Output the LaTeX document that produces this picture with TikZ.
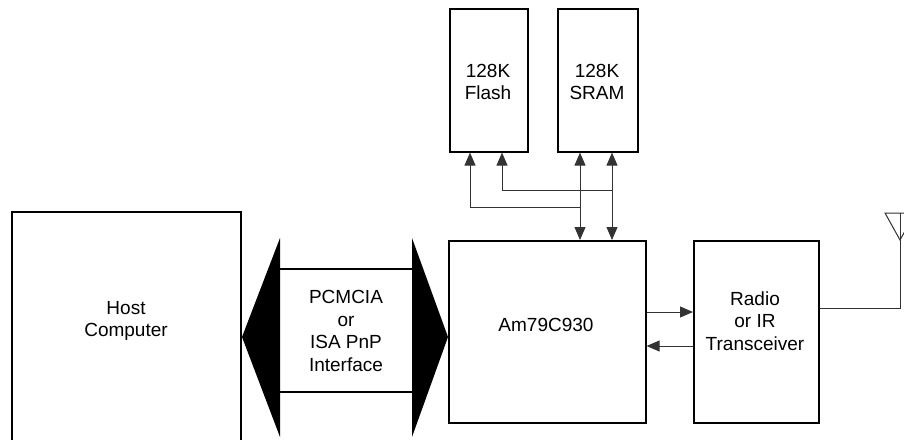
\documentclass[tikz,border=0pt]{standalone}
\usepackage{fontspec}
\setmainfont{Liberation Sans}
\usetikzlibrary{arrows.meta}
\begin{document}
\begin{tikzpicture}[x=1pt,y=-1pt,
  box/.style={draw=black,line width=1.6pt,inner sep=0pt,anchor=north west},
  lbl/.style={align=center,font=\fontsize{19}{22.5}\selectfont,inner sep=0pt},
  conn/.style={draw=black!80,line width=1pt},
  arr/.style={conn,-{Triangle[length=13pt,width=11pt]}},
  arrs/.style={conn,{Triangle[length=13pt,width=11pt]}-{Triangle[length=13pt,width=11pt]}},
  bus/.style={fill=black,draw=none}]
\useasboundingbox (0,0) rectangle (904,439);
\clip (0,0) rectangle (904,439);
% boxes
\node[box,minimum width=78pt,minimum height=143pt] (flash) at (449,8) {};
\node[box,minimum width=80pt,minimum height=143pt] (sram) at (557,8) {};
\node[box,minimum width=197pt,minimum height=182pt] (am) at (448,240) {};
\node[box,minimum width=125pt,minimum height=182pt] (radio) at (693,240) {};
\node[box,minimum width=229pt,minimum height=260pt] (host) at (11,211) {};
% labels
\node[lbl] (hostl) at (126,321) {Host\\Computer};
\node[lbl] (busl) at (346,331) {PCMCIA\\or\\ISA PnP\\Interface};
\node[lbl] (aml) at (546,325) {Am79C930};
\node[lbl] (radiol) at (755,321) {Radio\\or IR\\Transceiver};
\node[lbl] (flashl) at (488,82) {128K\\Flash};
\node[lbl] (sraml) at (597,82) {128K\\SRAM};
% bus
\coordinate (bl) at (280,238);
\fill[bus] (bl) -- (242,337) -- (280,437) -- cycle;
\fill[bus] (412,238) -- (448,337) -- (412,437) -- cycle;
\draw[line width=1.5pt] (280,269) -- (412,269);
\draw[line width=1.5pt] (280,392) -- (412,392);
% memory connectors
\draw[arrs] (580,0 |- sram.south) -- (580,0 |- am.north);
\draw[arrs] (612,0 |- sram.south) -- (612,0 |- am.north);
\draw[arr] (580,207) -- (470,207) -- (470,0 |- flash.south);
\draw[arr] (612,190) -- (502,190) -- (502,0 |- flash.south);
% am <-> radio
\draw[arr] (am.east |- 0,312) -- (radio.west |- 0,312);
\draw[arr] (radio.west |- 0,346) -- (am.east |- 0,346);
% antenna
\coordinate (ant) at (900,213);
\draw[conn] (radio.east |- 0,308) -- (900,308) -- (ant);
\draw[conn] (885,213) -- (915,213) -- (900,240) -- cycle;
\end{tikzpicture}
\end{document}
